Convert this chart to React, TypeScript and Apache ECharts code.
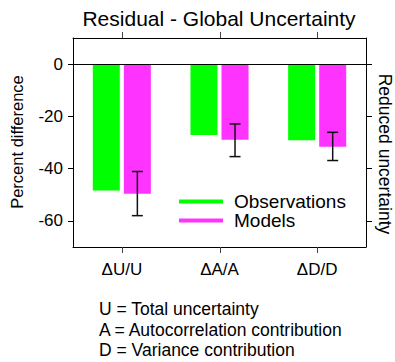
import React, { useEffect, useRef } from "react";
import * as echarts from "echarts";

const categories = ["ΔU/U", "ΔA/A", "ΔD/D"];
const observations = [-48.4, -27.1, -29.1];
const models = [-49.6, -28.9, -31.6];
const errLow = [-58.0, -35.4, -36.9];
const errHigh = [-41.1, -22.9, -26.1];
const yTicks = [0, -20, -40, -60];
const footnotes = [
  "U = Total uncertainty",
  "A = Autocorrelation contribution",
  "D = Variance contribution",
];

const FONT = "'Liberation Sans', Arial, Helvetica, sans-serif";
const GREEN = "#00ff00";
const MAGENTA = "#ff33ff";
const BAR_W = 27;
const GAP = 0.15;
const Y_MIN = -70;
const Y_MAX = 10;

export default function App() {
  const ref = useRef<HTMLDivElement>(null);
  useEffect(() => {
    document.body.style.margin = "0";
    if (!ref.current) return;
    const chart = echarts.init(ref.current, null, { renderer: "svg" });
    const offset = (BAR_W + BAR_W * GAP) / 2;
    const tickStyle = { color: "#000", width: 1 };
    const baseGraphic: any[] = [
      {
        type: "text",
        x: 17,
        y: 142,
        rotation: Math.PI / 2,
        style: {
          text: "Percent difference",
          font: `16.5px ${FONT}`,
          fill: "#000",
          align: "center",
          verticalAlign: "middle",
        },
      },
      {
        type: "text",
        x: 385,
        y: 154,
        rotation: -Math.PI / 2,
        style: {
          text: "Reduced uncertainty",
          font: `17.5px ${FONT}`,
          fill: "#000",
          align: "center",
          verticalAlign: "middle",
        },
      },
      ...footnotes.map((t, i) => ({
        type: "text",
        left: 99,
        top: 300 + i * 20.7,
        style: { text: t, font: `17.5px ${FONT}`, fill: "#000" },
      })),
    ];
    const option: any = {
      animation: false,
      textStyle: { fontFamily: FONT },
      title: {
        text: "Residual - Global Uncertainty",
        left: 219,
        textAlign: "center",
        top: 8,
        padding: 0,
        textStyle: { fontFamily: FONT, fontSize: 21, fontWeight: "normal", color: "#000" },
      },
      legend: {
        orient: "vertical",
        left: 179,
        top: 192,
        padding: 0,
        itemWidth: 44,
        itemHeight: 4,
        itemGap: 0,
        icon: "rect",
        data: ["Observations", "Models"],
        textStyle: { fontFamily: FONT, fontSize: 19, color: "#000", lineHeight: 18, padding: [0, 0, 0, 6] },
      },
      grid: { left: 73, right: 29, top: 38, bottom: 115, containLabel: false },
      xAxis: [
        {
          type: "category",
          data: categories,
          position: "bottom",
          axisLine: { show: true, onZero: false, lineStyle: { color: "#000", width: 1 } },
          axisTick: { show: false },
          axisLabel: { fontFamily: FONT, fontSize: 17, color: "#000", margin: 14 },
        },
        {
          type: "category",
          data: categories,
          position: "top",
          axisLine: { show: true, onZero: false, lineStyle: { color: "#000", width: 1 } },
          axisTick: { show: false },
          axisLabel: { show: false },
        },
      ],
      yAxis: [
        {
          type: "value",
          min: Y_MIN,
          max: Y_MAX,
          position: "left",
          axisLine: { show: true, lineStyle: { color: "#000", width: 1 } },
          axisTick: { show: true, length: 5, customValues: yTicks, lineStyle: tickStyle },
          axisLabel: { fontFamily: FONT, fontSize: 17, color: "#000", margin: 10, customValues: yTicks },
          splitLine: { show: false },
        },
        {
          type: "value",
          min: Y_MIN,
          max: Y_MAX,
          position: "right",
          axisLine: { show: true, lineStyle: { color: "#000", width: 1 } },
          axisTick: { show: true, length: 6, customValues: yTicks, lineStyle: tickStyle },
          axisLabel: { show: false },
          splitLine: { show: false },
        },
      ],
      series: [
        {
          name: "Observations",
          type: "bar",
          data: observations,
          barWidth: BAR_W,
          barGap: GAP * 100 + "%",
          itemStyle: { color: GREEN },
          markLine: {
            silent: true,
            symbol: "none",
            label: { show: false },
            lineStyle: { color: "#000", width: 1, type: "solid" },
            data: [{ yAxis: 0 }],
          },
        },
        {
          name: "Models",
          type: "bar",
          data: models,
          barWidth: BAR_W,
          barGap: GAP * 100 + "%",
          itemStyle: { color: MAGENTA },
        },
        {
          name: "err",
          type: "custom",
          data: categories.map((_, i) => [i, errLow[i], errHigh[i]]),
          z: 10,
          renderItem: (params: any, api: any) => {
            const lo = api.coord([api.value(0), api.value(1)]);
            const hi = api.coord([api.value(0), api.value(2)]);
            const x = lo[0] + offset;
            const hw = 5.5;
            const style = { stroke: "#111", lineWidth: 1.5 };
            return {
              type: "group",
              children: [
                { type: "line", shape: { x1: x, y1: lo[1], x2: x, y2: hi[1] }, style },
                { type: "line", shape: { x1: x - hw, y1: lo[1], x2: x + hw, y2: lo[1] }, style },
                { type: "line", shape: { x1: x - hw, y1: hi[1], x2: x + hw, y2: hi[1] }, style },
              ],
            };
          },
        },
      ],
      graphic: baseGraphic,
    };
    chart.setOption(option);

    // category ticks on the bottom and top edges, placed through the library's scales
    const yTop = chart.convertToPixel({ yAxisIndex: 0 }, Y_MAX) as number;
    const yBot = chart.convertToPixel({ yAxisIndex: 0 }, Y_MIN) as number;
    const tickLines: any[] = [];
    categories.forEach((c) => {
      const px = chart.convertToPixel({ xAxisIndex: 0 }, c) as number;
      const x = Math.round(px) + 0.5;
      const style = { stroke: "#444", lineWidth: 1 };
      tickLines.push({ type: "line", z: 100, shape: { x1: x, y1: yBot, x2: x, y2: yBot + 6 }, style });
      tickLines.push({ type: "line", z: 100, shape: { x1: x, y1: yTop - 6, x2: x, y2: yTop }, style });
    });
    chart.setOption({ graphic: [...baseGraphic, ...tickLines] });
    return () => chart.dispose();
  }, []);
  return <div ref={ref} style={{ width: 395, height: 362 }} />;
}
